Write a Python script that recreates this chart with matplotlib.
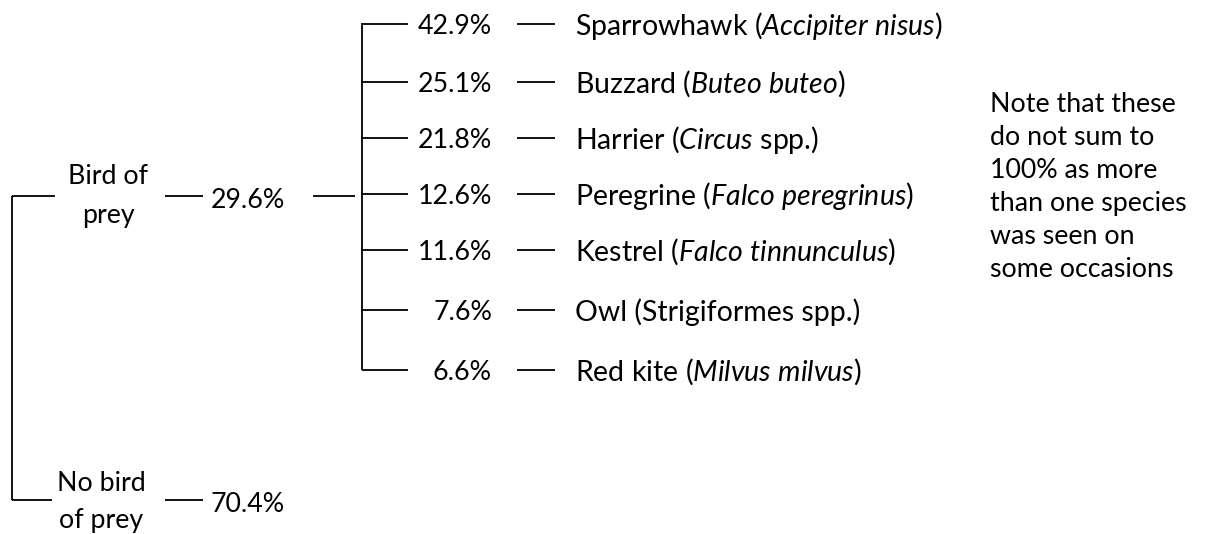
import matplotlib
matplotlib.use('Agg')
import matplotlib.pyplot as plt

plt.rcParams['font.family'] = ['Lato', 'DejaVu Sans']
plt.rcParams['mathtext.fontset'] = 'custom'
plt.rcParams['mathtext.rm'] = 'Lato'
plt.rcParams['mathtext.it'] = 'Lato:italic'

# top level split
top_labels = ['Bird of\nprey', 'No bird\nof prey']
top_values = [29.6, 70.4]

# species seen (share of bird-of-prey sightings)
species_common = ['Sparrowhawk', 'Buzzard', 'Harrier', 'Peregrine', 'Kestrel', 'Owl', 'Red kite']
species_latin = ['Accipiter nisus', 'Buteo buteo', 'Circus', 'Falco peregrinus',
                 'Falco tinnunculus', 'Strigiformes spp.', 'Milvus milvus']
latin_italic = [True, True, True, True, True, False, True]
latin_suffix = ['', '', ' spp.', '', '', '', '']
species_values = [42.9, 25.1, 21.8, 12.6, 11.6, 7.6, 6.6]

note = 'Note that these\ndo not sum to\n100% as more\nthan one species\nwas seen on\nsome occasions'

FS = 19.3
FS_SP = 20.5
fig = plt.figure(figsize=(12.18, 5.34), dpi=100)
ax = fig.add_axes([0, 0, 1, 1])
ax.set_xlim(0, 1218)
ax.set_ylim(534, 0)
ax.axis('off')

lw = 1.3
kw = dict(color='black', lw=lw, solid_capstyle='butt')

# root bracket
y_top, y_bot = 196, 500
ax.plot([12, 12], [y_top, y_bot], **kw)
ax.plot([12, 55], [y_top, y_top], **kw)
ax.plot([12, 52], [y_bot, y_bot], **kw)
ax.text(108, y_top, top_labels[0], ha='center', va='center', fontsize=FS, linespacing=1.75)
ax.text(101, y_bot + 2, top_labels[1], ha='center', va='center', fontsize=FS, linespacing=1.6)
for y, v in zip([y_top, y_bot], top_values):
    ax.plot([165, 203], [y, y], **kw)
    ax.text(211, y + 4, f'{v:.1f}%', ha='left', va='center', fontsize=FS)

# species branch
ax.plot([313, 355], [y_top, y_top], **kw)
row_y = [24, 82, 138, 194, 250, 310, 370]
ax.plot([362, 362], [row_y[0] - 1, row_y[-1]], **kw)
for y, common, latin, ital, suf, v in zip(row_y, species_common, species_latin,
                                          latin_italic, latin_suffix, species_values):
    ax.plot([362, 408], [y, y], **kw)
    ax.text(492, y + 2, f'{v:.1f}%', ha='right', va='center', fontsize=FS)
    ax.plot([517, 555], [y, y], **kw)
    if ital:
        s = common + ' (' + r'$\it{' + latin.replace(' ', r'\ ') + '}$' + suf + ')'
    else:
        s = common + ' (' + latin + suf + ')'
    ax.text(575, y + 2, s, ha='left', va='center', fontsize=FS_SP)

ax.text(990, 187, note, ha='left', va='center', fontsize=FS, linespacing=1.4)

fig.savefig('out.png', dpi=100)
